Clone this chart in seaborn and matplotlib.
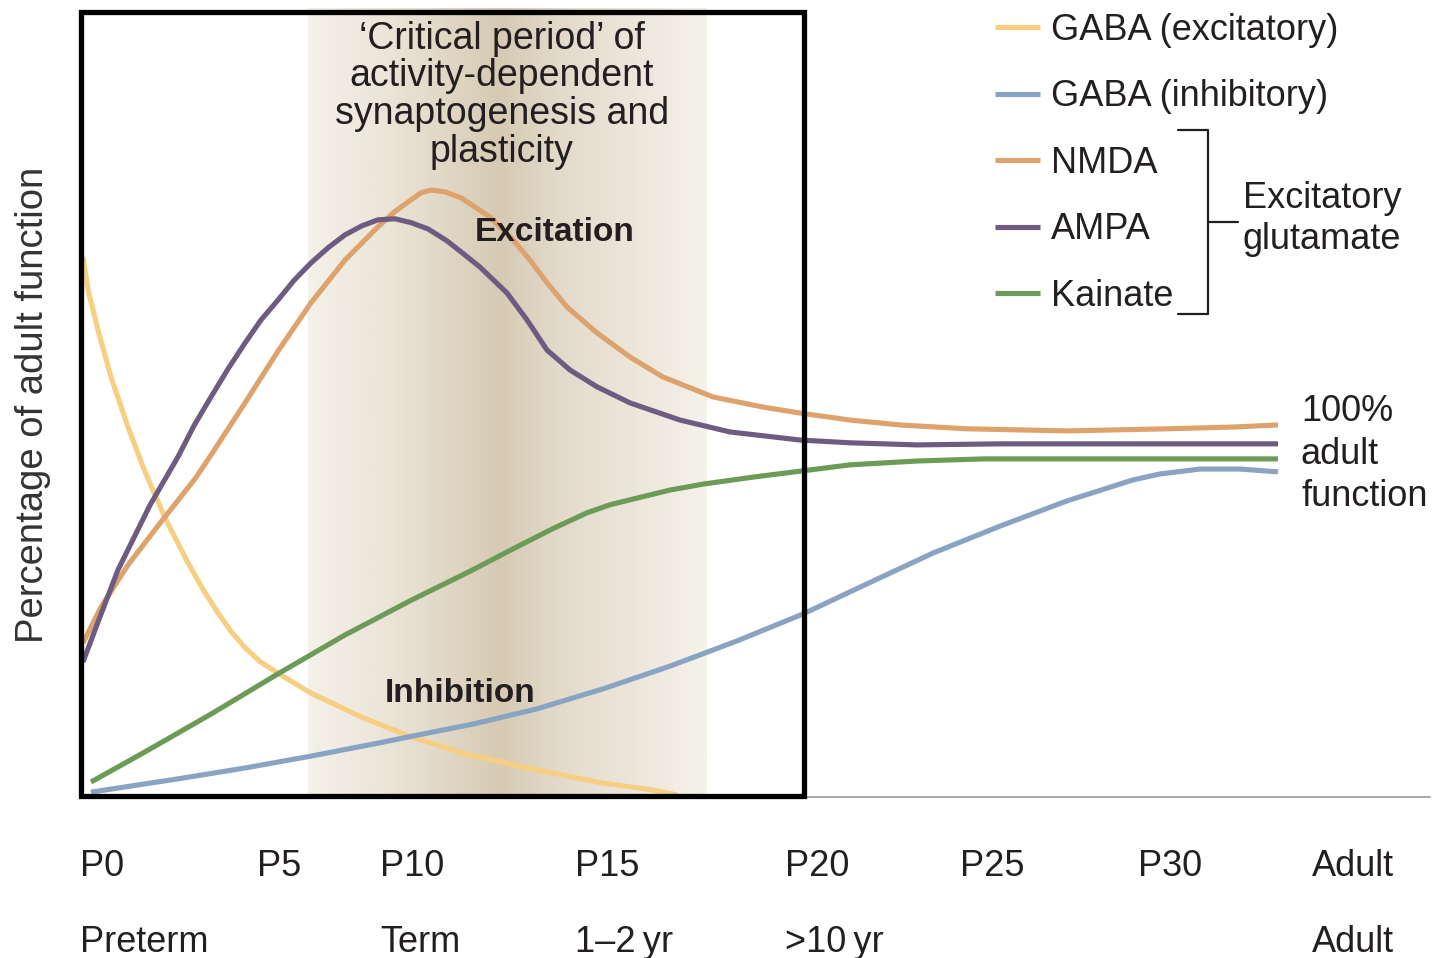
import numpy as np
import pandas as pd
import matplotlib.pyplot as plt
import seaborn as sns
from matplotlib.colors import LinearSegmentedColormap
from matplotlib.patches import Rectangle

# x = position along the developmental timeline (arbitrary units)
# y = percentage of adult function
gaba_exc_x = [0.3, 0.8, 1.8, 3.1, 4.8, 6.5, 8.6, 10.8, 12.3, 13.8, 15.1, 16.5, 18.0,
              19.8, 21.4, 23.1, 28.1, 33.1, 39.0, 45.7, 52.3, 57.3, 59.7]
gaba_exc_y = [154.0, 144.6, 133.1, 119.7, 105.4, 92.6, 78.9, 66.6, 59.0, 52.3, 47.0,
              42.4, 38.4, 35.1, 32.3, 29.4, 22.6, 16.9, 11.7, 7.4, 3.7, 1.7, 0.3]

gaba_inh_x = [1.1, 9.8, 16.5, 23.1, 29.8, 34.8, 39.4, 45.7, 52.3, 59.0, 65.7, 72.3,
              78.7, 85.3, 92.0, 98.7, 105.3, 108.0, 112.0, 116.0, 119.8]
gaba_inh_y = [1.1, 4.9, 8.0, 11.4, 15.1, 18.0, 20.6, 24.9, 30.6, 37.1, 44.3, 52.0,
              60.6, 69.4, 77.1, 84.3, 90.3, 92.0, 93.4, 93.4, 92.6]

nmda_x = [0.3, 2.1, 4.8, 8.1, 11.5, 13.1, 16.5, 19.8, 23.1, 26.5, 29.8, 31.5, 33.1,
          34.1, 35.1, 36.5, 38.1, 41.0, 43.3, 45.0, 46.7, 48.7, 51.7, 55.0, 58.3,
          63.3, 68.3, 72.0, 77.0, 82.0, 88.7, 98.7, 108.7, 115.3, 119.8]
nmda_y = [43.7, 54.0, 66.0, 78.3, 90.6, 97.4, 112.3, 127.1, 140.9, 153.1, 162.6,
          167.0, 170.3, 172.3, 173.1, 172.6, 170.9, 165.4, 158.9, 153.1, 146.6,
          139.7, 132.3, 125.4, 119.7, 114.0, 111.1, 109.4, 107.4, 106.0, 104.9,
          104.3, 104.9, 105.4, 106.0]

ampa_x = [0.3, 1.8, 3.8, 7.0, 9.8, 11.4, 13.1, 14.8, 16.5, 18.1, 19.8, 21.4, 23.1,
          24.8, 26.5, 28.2, 29.8, 31.5, 33.1, 34.8, 36.7, 38.3, 40.0, 42.7, 44.7,
          46.7, 49.0, 51.7, 55.0, 60.0, 65.0, 72.0, 77.0, 83.7, 92.0, 119.8]
ampa_y = [38.3, 49.7, 64.6, 83.1, 96.9, 105.8, 114.0, 122.0, 129.4, 136.0, 141.7,
          147.3, 152.3, 156.6, 160.3, 162.9, 164.6, 164.9, 163.8, 162.0, 158.6,
          155.0, 151.1, 143.7, 136.0, 127.4, 121.7, 116.9, 112.3, 107.4, 104.0,
          101.7, 100.9, 100.3, 100.6, 100.6]

kainate_x = [1.1, 6.5, 13.1, 19.8, 26.5, 33.1, 39.0, 43.3, 47.3, 50.7, 53.0, 55.7,
             59.0, 62.3, 67.3, 72.3, 77.0, 83.7, 90.3, 105.0, 119.8]
kainate_y = [4.0, 12.6, 23.4, 34.9, 46.0, 55.9, 64.2, 70.6, 76.4, 80.9, 83.2, 85.1,
             87.4, 89.1, 91.1, 92.9, 94.6, 95.7, 96.3, 96.3, 96.3]

receptors = ['GABA (excitatory)', 'GABA (inhibitory)', 'NMDA', 'AMPA', 'Kainate']
colors = ['#f7cf82', '#88a4c2', '#dea26c', '#6d5b82', '#6b9b57']

tick_pos = [0, 17.7, 30.0, 49.5, 70.5, 88.0, 105.8, 123.2]
tick_labels = ['P0', 'P5', 'P10', 'P15', 'P20', 'P25', 'P30', 'Adult']
age_pos = [0, 30.0, 49.5, 70.5, 123.2]
age_labels = ['Preterm', 'Term', '1\u20132\u2009yr', '>10\u2009yr', 'Adult']

critical_start, critical_end = 22.8, 62.7

curves = [(gaba_exc_x, gaba_exc_y), (gaba_inh_x, gaba_inh_y), (nmda_x, nmda_y),
          (ampa_x, ampa_y), (kainate_x, kainate_y)]
df = pd.concat([pd.DataFrame({'x': xs, 'y': ys, 'receptor': name})
                for name, (xs, ys) in zip(receptors, curves)], ignore_index=True)

sns.set_style('white')
plt.rcParams['font.family'] = ['Liberation Sans', 'DejaVu Sans']
txt = '#231f20'

fig = plt.figure(figsize=(14.41, 9.58), dpi=100)
ax = fig.add_axes([80/1441, 1 - 796/958, 1350/1441, 796/958])

# critical period shading
shade = LinearSegmentedColormap.from_list('shade', [
    (0.0, '#f4f1e9'), (0.2, '#ebe5d8'), (0.38, '#ded4c1'), (0.48, '#d6cab3'),
    (0.63, '#e3dacb'), (0.81, '#ece6da'), (1.0, '#f5f2eb')])
ax.imshow(np.linspace(0, 1, 400)[None, :], extent=[critical_start, critical_end, 0, 225],
          aspect='auto', cmap=shade, zorder=0)

sns.lineplot(data=df, x='x', y='y', hue='receptor', hue_order=receptors,
             palette=colors, estimator=None, sort=False, linewidth=3.7,
             solid_capstyle='butt', solid_joinstyle='round', ax=ax, zorder=3)

ax.plot([0, 135], [-0.4, -0.4], color='#a8a8a8', lw=1.4, clip_on=False, zorder=1)
ax.add_patch(Rectangle((0.05, 0), 72.35, 224.0, fill=False, lw=3.8, ec='black',
                       clip_on=False, zorder=6))

ax.set_xlim(0, 135)
ax.set_ylim(0, 227.4)
ax.set_axis_off()

ax.text(-4.7, 111.7, 'Percentage of adult function', rotation=90, ha='center',
        va='center', fontsize=27.5, color='#333333')

for x, lab in zip(tick_pos, tick_labels):
    ax.text(x, -22.9, lab, ha='left', va='baseline', fontsize=26, color=txt)
for x, lab in zip(age_pos, age_labels):
    ax.text(x, -44.6, lab, ha='left', va='baseline', fontsize=26, color=txt)

ax.text(42.2, 200.2, '\u2018Critical period\u2019 of\nactivity-dependent\nsynaptogenesis and\nplasticity',
        ha='center', va='center', multialignment='center', fontsize=27,
        linespacing=1.06, color=txt, zorder=4)
ax.text(47.5, 160.9, 'Excitation', ha='center', va='center', fontsize=24,
        fontweight='bold', color=txt, zorder=4)
ax.text(38.0, 29.4, 'Inhibition', ha='center', va='center', fontsize=24,
        fontweight='bold', color=txt, zorder=4)
ax.text(122.1, 97.7, '100%\nadult\nfunction', ha='left', va='center', fontsize=26,
        linespacing=1.27, color=txt)

# bracket for glutamate receptors
ax.plot([109.8, 112.8, 112.8, 109.8], [190.3, 190.3, 137.7, 137.7], color=txt,
        lw=1.6, clip_on=False)
ax.plot([112.8, 115.8], [164.0, 164.0], color=txt, lw=1.6, clip_on=False)
ax.text(116.3, 170.6, 'Excitatory', ha='left', va='center', fontsize=26, color=txt)
ax.text(116.3, 158.9, 'glutamate', ha='left', va='center', fontsize=26, color=txt)

handles, labels = ax.get_legend_handles_labels()
ax.get_legend().remove()
leg = fig.legend(handles, labels, loc='upper left', bbox_to_anchor=(995/1441, 1 - 13/958),
                 frameon=False, fontsize=26, handlelength=1.25, handletextpad=0.3,
                 labelspacing=0.87, borderpad=0, borderaxespad=0)
for line in leg.get_lines():
    line.set_linewidth(3.7)
for t in leg.get_texts():
    t.set_color(txt)

fig.savefig('out.png', dpi=100)
